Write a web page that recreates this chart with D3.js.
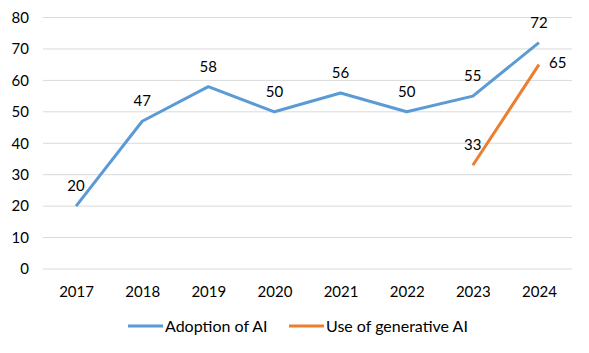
<!DOCTYPE html>
<html>
<head>
<meta charset="utf-8">
<script src="https://cdn.jsdelivr.net/npm/d3@7"></script>
<style>
  body { margin: 0; background: #fff; }
  text { font-family: Lato, "Open Sans", sans-serif; fill: #000; }
</style>
</head>
<body>
<svg width="589" height="353"></svg>
<script>
// Chart data
var years = ['2017', '2018', '2019', '2020', '2021', '2022', '2023', '2024'];
var adoption = [20, 47, 58, 50, 56, 50, 55, 72];
var generative = [null, null, null, null, null, null, 33, 65];
var yTicks = [0, 10, 20, 30, 40, 50, 60, 70, 80];
var seriesNames = ['Adoption of AI', 'Use of generative AI'];
var seriesColors = ['#5B9BD5', '#ED7D31'];

var svg = d3.select('svg');

var padding = {t: 17.5, r: 17, b: 84, l: 43};
var chartWidth = +svg.attr('width') - padding.l - padding.r;
var chartHeight = +svg.attr('height') - padding.t - padding.b;

var chartG = svg.append('g')
    .attr('transform', 'translate(' + [padding.l, padding.t] + ')');

var xScale = d3.scalePoint().domain(years).range([0, chartWidth]).padding(0.5);
var yScale = d3.scaleLinear().domain([0, 80]).range([chartHeight, 0]);

// Gridlines
chartG.selectAll('.grid')
    .data(yTicks)
    .enter().append('line')
    .attr('x1', 0).attr('x2', chartWidth)
    .attr('y1', function(d){ return yScale(d); })
    .attr('y2', function(d){ return yScale(d); })
    .style('stroke', '#D9D9D9').style('stroke-width', 1);

// Y axis labels
var yAxis = chartG.append('g')
    .call(d3.axisLeft(yScale).tickValues(yTicks).tickSize(0).tickPadding(14));
yAxis.select('.domain').remove();
yAxis.selectAll('text').style('font-size', '15px').style('font-family', 'Lato, sans-serif');

// X axis labels
var xAxis = chartG.append('g')
    .attr('transform', 'translate(0,' + chartHeight + ')')
    .call(d3.axisBottom(xScale).tickSize(0).tickPadding(17));
xAxis.select('.domain').remove();
xAxis.selectAll('text').style('font-size', '15px').style('font-family', 'Lato, sans-serif');

var line = d3.line()
    .defined(function(d){ return d.value != null; })
    .x(function(d){ return xScale(d.year); })
    .y(function(d){ return yScale(d.value); });

var series = [adoption, generative].map(function(vals, i){
    return {name: seriesNames[i], color: seriesColors[i],
        values: years.map(function(y, j){ return {year: y, value: vals[j]}; })};
});

chartG.selectAll('.series')
    .data(series)
    .enter().append('path')
    .attr('d', function(d){ return line(d.values); })
    .style('fill', 'none')
    .style('stroke', function(d){ return d.color; })
    .style('stroke-width', 3)
    .style('stroke-linejoin', 'round');

// Data labels
var labelData = [];
series.forEach(function(s, i){
    s.values.forEach(function(v){
        if (v.value == null) return;
        var dx = 0, dy = -15;
        if (i == 1 && v.year == '2024') { dx = 10; dy = 3; }
        labelData.push({x: xScale(v.year) + dx, y: yScale(v.value) + dy, text: v.value, anchor: i == 1 && v.year == '2024' ? 'start' : 'middle'});
    });
});
chartG.selectAll('.label')
    .data(labelData)
    .enter().append('text')
    .attr('x', function(d){ return d.x; })
    .attr('y', function(d){ return d.y; })
    .attr('text-anchor', function(d){ return d.anchor; })
    .style('font-size', '15px')
    .text(function(d){ return d.text; });

// Legend
var legendX = [128, 289];
var legend = svg.selectAll('.legend')
    .data(series)
    .enter().append('g')
    .attr('transform', function(d, i){ return 'translate(' + [legendX[i], 326] + ')'; });
legend.append('line')
    .attr('x1', 0).attr('x2', 35)
    .style('stroke', function(d){ return d.color; })
    .style('stroke-width', 3);
legend.append('text')
    .attr('x', 37).attr('y', 5.5)
    .style('font-size', '16px')
    .text(function(d){ return d.name; });
</script>
</body>
</html>
